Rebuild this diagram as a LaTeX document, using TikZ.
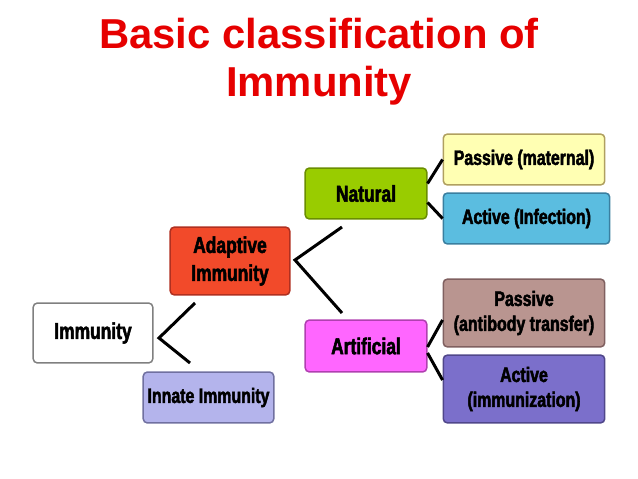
\documentclass[tikz,border=0pt]{standalone}
\usepackage{fontspec}
\setmainfont{Liberation Sans}
\newfontfamily\boxfont[FakeStretch=0.76,FakeBold=2.2]{Liberation Sans}
\definecolor{titlered}{HTML}{E60000}
\definecolor{adaptfill}{HTML}{F24A2A}
\definecolor{adaptline}{HTML}{B03020}
\definecolor{innatefill}{HTML}{B4B4EC}
\definecolor{innateline}{HTML}{7070A0}
\definecolor{natfill}{HTML}{99CC00}
\definecolor{natline}{HTML}{6A8E00}
\definecolor{artfill}{HTML}{FF66FF}
\definecolor{artline}{HTML}{B040B0}
\definecolor{pmatfill}{HTML}{FFFFB3}
\definecolor{pmatline}{HTML}{B0A060}
\definecolor{ainffill}{HTML}{5BBDE0}
\definecolor{ainfline}{HTML}{3A7FA0}
\definecolor{pabfill}{HTML}{B99590}
\definecolor{pabline}{HTML}{806060}
\definecolor{aimmfill}{HTML}{7B6FCB}
\definecolor{aimmline}{HTML}{50478A}
\begin{document}
\begin{tikzpicture}[x=1bp,y=-1bp,
  box/.style={draw, rounded corners=4bp, line width=1.5bp, align=center, inner sep=0pt,
    font=\boxfont\bfseries\fontsize{23}{28}\selectfont},
  small/.style={font=\boxfont\bfseries\fontsize{21}{25}\selectfont},
  link/.style={line width=3bp}]

  \useasboundingbox (0,0) rectangle (638,479);

  \node[text=titlered, align=center, anchor=base,
    font=\bfseries\fontsize{42}{49}\selectfont] (title) at (319,97)
    {Basic classification of\\Immunity};

  \node[box, draw=gray, fill=white, minimum width=120, minimum height=60] (imm) at (93,333) {Immunity};
  \node[box, draw=adaptline, fill=adaptfill, minimum width=120, minimum height=68] (adapt) at (230,261) {Adaptive\\Immunity};
  \node[box, small, draw=innateline, fill=innatefill, minimum width=131, minimum height=51] (innate) at (208.5,397.5) {Innate Immunity};
  \node[box, draw=natline, fill=natfill, minimum width=122, minimum height=51] (natural) at (366,193.5) {Natural};
  \node[box, draw=artline, fill=artfill, minimum width=122, minimum height=52] (artif) at (366,346) {Artificial};
  \node[box, small, draw=pmatline, fill=pmatfill, minimum width=162, minimum height=51] (pmat) at (524,159.5) {Passive (maternal)};
  \node[box, small, draw=ainfline, fill=ainffill, minimum width=167, minimum height=51] (ainf) at (526.5,218.5) {Active (Infection)};
  \node[box, small, draw=pabline, fill=pabfill, minimum width=162, minimum height=68] (pab) at (524,313) {Passive\\(antibody transfer)};
  \node[box, small, draw=aimmline, fill=aimmfill, minimum width=162, minimum height=68] (aimm) at (524,389) {Active\\(immunization)};

  % branch points
  \coordinate (v0) at (159,338);
  \coordinate (v0a) at (195,303);
  \coordinate (v0b) at (190,363);
  \coordinate (v1) at (295,260);
  \coordinate (v1a) at (342,227);
  \coordinate (v1b) at (342,313);

  \draw [link] (v0a) -- (v0) -- (v0b);
  \draw [link] (v1a) -- (v1) -- (v1b);
  \draw [link] ([yshift=10]natural.east) -- (pmat.west);
  \draw [link] ([yshift=-9]natural.east) -- (ainf.west);
  \draw [link] ([yshift=-1]artif.east) -- ([yshift=-7]pab.west);
  \draw [link] ([yshift=-7]artif.east) -- ([yshift=9]aimm.west);

\end{tikzpicture}
\end{document}
